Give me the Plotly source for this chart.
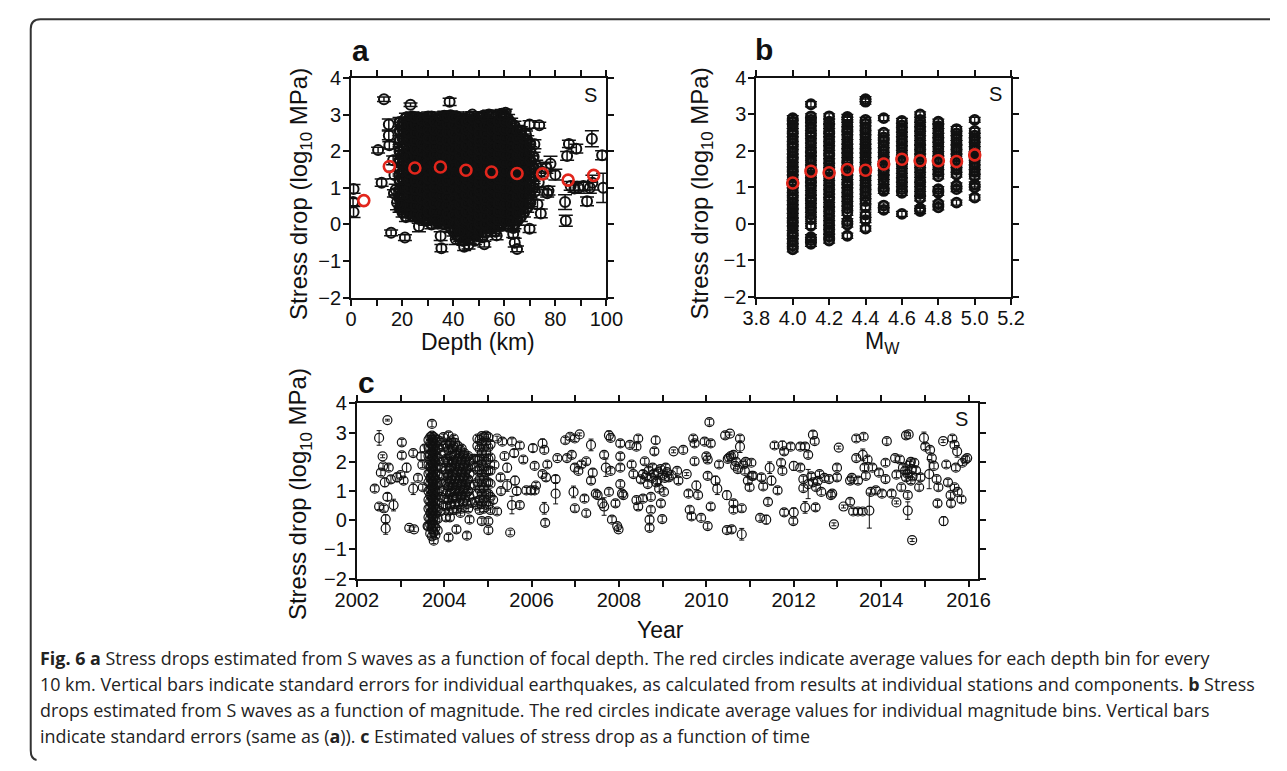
import plotly.graph_objects as go

W, H = 1287, 771
def px(x): return x / W
def py(y): return 1 - y / H

# ---------------- Panel a : stress drop vs depth ----------------
# dense body of events, read column by column (depth km -> log10 stress drops)
a_core_depth = [19.0, 21.5, 24.0, 26.5, 29.0, 31.5, 34.0, 36.5, 39.0, 41.5, 44.0,
                46.5, 49.0, 51.5, 54.0, 56.5, 59.0, 61.5, 64.0, 66.5, 69.0, 71.5]
a_core_stress = [
    [0.45, 0.7, 0.95, 1.2, 1.5, 1.75, 2.0, 2.3, 2.55, 2.8],
    [0.2, 0.4, 0.62, 0.85, 1.05, 1.28, 1.5, 1.7, 1.92, 2.15, 2.35, 2.58, 2.8, 2.92],
    [0.22, 0.45, 0.65, 0.88, 1.1, 1.3, 1.52, 1.75, 1.95, 2.18, 2.4, 2.6, 2.82, 2.95],
    [0.15, 0.38, 0.6, 0.8, 1.02, 1.25, 1.45, 1.68, 1.9, 2.1, 2.32, 2.55, 2.75, 2.92],
    [0.1, 0.32, 0.55, 0.75, 0.98, 1.2, 1.4, 1.62, 1.85, 2.05, 2.28, 2.5, 2.7, 2.9],
    [0.0, 0.22, 0.45, 0.68, 0.9, 1.1, 1.32, 1.55, 1.78, 2.0, 2.2, 2.42, 2.65, 2.85, 2.95],
    [0.05, 0.28, 0.5, 0.72, 0.95, 1.15, 1.38, 1.6, 1.8, 2.02, 2.25, 2.48, 2.7, 2.9],
    [0.0, 0.2, 0.42, 0.65, 0.88, 1.08, 1.3, 1.52, 1.75, 1.98, 2.2, 2.4, 2.62, 2.85, 2.97],
    [-0.1, 0.12, 0.35, 0.58, 0.8, 1.02, 1.25, 1.45, 1.68, 1.9, 2.12, 2.35, 2.55, 2.78, 2.98],
    [-0.3, -0.08, 0.15, 0.38, 0.6, 0.82, 1.05, 1.28, 1.5, 1.72, 1.95, 2.18, 2.4, 2.62, 2.85, 2.95],
    [-0.45, -0.22, 0.0, 0.22, 0.45, 0.68, 0.9, 1.12, 1.35, 1.58, 1.8, 2.02, 2.25, 2.48, 2.7, 2.9],
    [-0.4, -0.18, 0.05, 0.28, 0.5, 0.72, 0.95, 1.18, 1.4, 1.62, 1.85, 2.08, 2.3, 2.52, 2.75, 2.95],
    [-0.3, -0.08, 0.15, 0.38, 0.6, 0.82, 1.05, 1.28, 1.5, 1.72, 1.95, 2.18, 2.4, 2.62, 2.85],
    [-0.35, -0.12, 0.1, 0.32, 0.55, 0.78, 1.0, 1.22, 1.45, 1.68, 1.9, 2.12, 2.35, 2.58, 2.8, 2.96],
    [-0.1, 0.12, 0.35, 0.58, 0.8, 1.02, 1.25, 1.48, 1.7, 1.92, 2.15, 2.38, 2.6, 2.82, 3.0],
    [-0.2, 0.02, 0.25, 0.48, 0.7, 0.92, 1.15, 1.38, 1.6, 1.82, 2.05, 2.28, 2.5, 2.72, 2.95],
    [0.0, 0.22, 0.45, 0.68, 0.9, 1.12, 1.35, 1.58, 1.8, 2.02, 2.25, 2.48, 2.7, 2.92, 3.02],
    [-0.05, 0.18, 0.4, 0.62, 0.85, 1.08, 1.3, 1.52, 1.75, 1.98, 2.2, 2.42, 2.65, 2.88],
    [0.0, 0.22, 0.45, 0.68, 0.9, 1.12, 1.35, 1.58, 1.8, 2.02, 2.25, 2.48, 2.7],
    [0.2, 0.42, 0.65, 0.88, 1.1, 1.32, 1.55, 1.78, 2.0, 2.22, 2.45],
    [0.45, 0.7, 0.95, 1.18, 1.4, 1.62, 1.85, 2.08, 2.3],
    [1.0, 1.3, 1.55, 1.85],
]
a_core2_depth = [20.2, 22.7, 25.2, 27.7, 30.2, 32.7, 35.2, 37.7, 40.2, 42.7, 45.2,
                 47.7, 50.2, 52.7, 55.2, 57.7, 60.2, 62.7, 65.2, 67.7, 70.2]
a_core2_stress = [
    [0.32, 0.55, 0.78, 1.0, 1.22, 1.45, 1.68, 1.9, 2.12, 2.35, 2.58, 2.78],
    [0.3, 0.52, 0.75, 0.98, 1.2, 1.42, 1.63, 1.85, 2.08, 2.3, 2.5, 2.72, 2.9],
    [0.28, 0.5, 0.72, 0.95, 1.18, 1.4, 1.62, 1.85, 2.05, 2.28, 2.5, 2.72, 2.92],
    [0.25, 0.48, 0.7, 0.92, 1.15, 1.35, 1.58, 1.8, 2.02, 2.22, 2.45, 2.65, 2.85],
    [0.12, 0.35, 0.58, 0.8, 1.02, 1.25, 1.48, 1.7, 1.92, 2.12, 2.35, 2.58, 2.8, 2.95],
    [0.12, 0.35, 0.58, 0.8, 1.02, 1.25, 1.45, 1.68, 1.9, 2.12, 2.35, 2.58, 2.8],
    [0.1, 0.32, 0.55, 0.78, 1.0, 1.2, 1.42, 1.65, 1.88, 2.1, 2.32, 2.55, 2.75, 2.92],
    [0.08, 0.3, 0.52, 0.75, 0.98, 1.2, 1.42, 1.62, 1.85, 2.08, 2.3, 2.52, 2.75, 2.95],
    [-0.2, 0.02, 0.25, 0.48, 0.7, 0.92, 1.15, 1.38, 1.6, 1.82, 2.05, 2.28, 2.5, 2.72, 2.92],
    [-0.35, -0.12, 0.1, 0.32, 0.55, 0.78, 1.0, 1.22, 1.45, 1.68, 1.9, 2.12, 2.35, 2.58, 2.8],
    [-0.32, -0.1, 0.12, 0.35, 0.58, 0.8, 1.02, 1.25, 1.48, 1.7, 1.92, 2.15, 2.38, 2.6, 2.82],
    [-0.3, -0.05, 0.18, 0.4, 0.62, 0.85, 1.08, 1.3, 1.52, 1.75, 1.98, 2.2, 2.42, 2.65, 2.88],
    [-0.2, 0.02, 0.25, 0.48, 0.7, 0.92, 1.15, 1.38, 1.6, 1.82, 2.05, 2.28, 2.5, 2.72, 2.92],
    [-0.22, 0.0, 0.22, 0.45, 0.68, 0.9, 1.12, 1.35, 1.58, 1.8, 2.02, 2.25, 2.48, 2.7, 2.9],
    [-0.12, 0.1, 0.32, 0.55, 0.78, 1.0, 1.22, 1.45, 1.68, 1.9, 2.12, 2.35, 2.58, 2.8, 2.98],
    [-0.05, 0.12, 0.35, 0.58, 0.8, 1.02, 1.25, 1.48, 1.7, 1.92, 2.15, 2.38, 2.6, 2.82],
    [0.1, 0.32, 0.55, 0.78, 1.0, 1.22, 1.45, 1.68, 1.9, 2.12, 2.35, 2.58, 2.8, 2.98],
    [0.08, 0.3, 0.52, 0.75, 0.98, 1.2, 1.42, 1.65, 1.88, 2.1, 2.32, 2.55, 2.78],
    [0.1, 0.32, 0.55, 0.78, 1.0, 1.22, 1.45, 1.68, 1.9, 2.12, 2.35, 2.58],
    [0.32, 0.55, 0.78, 1.0, 1.22, 1.45, 1.68, 1.9, 2.12, 2.35],
    [0.6, 0.85, 1.08, 1.3, 1.52, 1.75, 2.0, 2.2],
]
a_core_err = 0.12
# isolated events: (depth km, log10 stress drop, standard error)
a_sparse = [
    (1.0, 0.97, 0.12), (0.8, 0.61, 0.10), (1.0, 0.34, 0.15),
    (10.6, 2.03, 0.08), (12.9, 3.42, 0.06), (12.0, 1.14, 0.10),
    (14.8, 2.73, 0.15), (14.8, 2.43, 0.12), (15.0, 2.16, 0.10), (15.7, -0.23, 0.08),
    (16.5, 1.75, 0.12), (17.0, 1.35, 0.10), (17.5, 0.95, 0.15), (18.0, 0.60, 0.20), (16.8, 0.85, 0.10),
    (19.5, 0.52, 0.18), (20.3, 2.69, 0.10), (21.1, -0.36, 0.08), (23.3, 3.27, 0.05),
    (26.6, -0.05, 0.15), (33.2, 0.12, 0.10), (35.1, -0.32, 0.12), (35.4, -0.65, 0.10), (38.6, 3.35, 0.10),
    (44.3, -0.61, 0.10), (52.2, -0.54, 0.08), (63.5, -0.26, 0.10), (64.1, -0.50, 0.12), (65.0, -0.67, 0.08),
    (69.9, -0.12, 0.10), (74.3, 0.30, 0.12), (69.9, 2.73, 0.10), (73.7, 2.71, 0.08), (71.8, 2.19, 0.12),
    (72.5, 1.60, 0.15), (74.5, 1.45, 0.20), (76.5, 1.55, 0.15), (78.1, 1.66, 0.20), (77.3, 0.92, 0.12),
    (76.8, 0.85, 0.10), (80.0, 1.36, 0.15), (73.0, 0.55, 0.12), (72.0, 0.90, 0.10), (73.5, 1.15, 0.15),
    (83.8, 0.61, 0.20), (84.1, 0.10, 0.15), (84.6, 1.87, 0.12), (85.3, 2.20, 0.10), (88.2, 2.07, 0.12),
    (86.0, 1.05, 0.12), (87.5, 0.98, 0.10), (89.0, 1.00, 0.15), (91.0, 1.05, 0.12), (92.4, 0.63, 0.12),
    (94.3, 2.34, 0.22), (94.5, 1.14, 0.20), (93.5, 1.00, 0.15), (98.3, 1.89, 0.12), (98.7, 1.00, 0.40),
    (60.5, 3.05, 0.10), (58.5, 3.00, 0.10), (47.5, 3.00, 0.08), (52.0, 2.97, 0.10),
    (66.5, 2.55, 0.12), (68.5, 2.45, 0.10), (63.5, -0.10, 0.10), (57.0, -0.30, 0.12),
    (48.5, -0.45, 0.10), (41.0, -0.40, 0.15), (46.0, -0.55, 0.12), (42.5, -0.20, 0.10),
]
a_bin_depth = [5, 15, 25, 35, 45, 55, 65, 75, 85, 95]
a_bin_mean = [0.65, 1.58, 1.54, 1.57, 1.48, 1.43, 1.39, 1.38, 1.21, 1.34]

# ---------------- Panel b : stress drop vs magnitude ----------------
b_mw = [4.0, 4.1, 4.2, 4.3, 4.4, 4.5, 4.6, 4.7, 4.8, 4.9, 5.0]
b_sd_40 = [-0.7, -0.6, -0.48, -0.35, -0.25, -0.12, 0.0, 0.1, 0.22, 0.35, 0.46, 0.58, 0.7, 0.8, 0.92,
           1.05, 1.15, 1.28, 1.4, 1.5, 1.62, 1.75, 1.85, 1.98, 2.1, 2.2, 2.32, 2.45, 2.55, 2.68, 2.8, 2.9]
b_sd_41 = [-0.55, -0.45, -0.37, -0.06, 0.12, 0.25, 0.38, 0.5, 0.62, 0.72, 0.85, 0.98, 1.1, 1.2, 1.32,
           1.45, 1.55, 1.68, 1.8, 1.92, 2.02, 2.15, 2.28, 2.4, 2.5, 2.62, 2.75, 2.85, 2.95, 3.28]
b_sd_42 = [-0.46, -0.35, -0.22, -0.1, 0.02, 0.15, 0.28, 0.4, 0.52, 0.65, 0.75, 0.88, 1.0, 1.12, 1.25,
           1.38, 1.48, 1.6, 1.72, 1.85, 1.95, 2.08, 2.2, 2.32, 2.45, 2.55, 2.68, 2.8, 2.95]
b_sd_43 = [-0.33, -0.02, 0.07, 0.3, 0.42, 0.55, 0.68, 0.8, 0.92, 1.05, 1.15, 1.28, 1.4, 1.52, 1.65,
           1.75, 1.88, 2.0, 2.12, 2.25, 2.38, 2.5, 2.6, 2.72, 2.85, 2.93]
b_sd_44 = [-0.13, 0.1, 0.25, 0.45, 0.62, 0.75, 0.88, 1.0, 1.12, 1.25, 1.38, 1.5, 1.62, 1.75, 1.88,
           2.0, 2.12, 2.25, 2.38, 2.5, 2.62, 2.75, 2.85, 3.35, 3.42]
b_sd_45 = [0.38, 0.5, 0.9, 1.0, 1.15, 1.28, 1.4, 1.52, 1.65, 1.78, 1.9, 2.02, 2.15, 2.28, 2.37, 2.5, 2.9]
b_sd_46 = [0.27, 0.85, 0.95, 1.08, 1.2, 1.32, 1.45, 1.58, 1.7, 1.82, 1.95, 2.08, 2.2, 2.32, 2.45, 2.58,
           2.7, 2.82]
b_sd_47 = [0.35, 0.42, 0.7, 0.82, 0.95, 1.08, 1.2, 1.35, 1.48, 1.6, 1.72, 1.85, 1.98, 2.1, 2.22, 2.35,
           2.48, 2.6, 2.72, 2.85, 3.0]
b_sd_48 = [0.45, 0.55, 0.85, 0.95, 1.3, 1.42, 1.55, 1.68, 1.8, 1.92, 2.05, 2.18, 2.3, 2.42, 2.55, 2.68, 2.8]
b_sd_49 = [0.58, 0.95, 1.05, 1.35, 1.48, 1.6, 1.72, 1.85, 1.98, 2.1, 2.22, 2.35, 2.48, 2.6]
b_sd_50 = [0.72, 1.0, 1.08, 1.3, 1.42, 1.55, 1.68, 1.8, 1.92, 2.05, 2.18, 2.3, 2.42, 2.55, 2.85]
b_columns = [b_sd_40, b_sd_41, b_sd_42, b_sd_43, b_sd_44, b_sd_45, b_sd_46, b_sd_47, b_sd_48, b_sd_49, b_sd_50]
b_err = 0.07
b_mean = [1.12, 1.44, 1.40, 1.49, 1.47, 1.64, 1.77, 1.73, 1.73, 1.71, 1.89]

# ---------------- Panel c : stress drop vs time ----------------
# dense aftershock clusters: column times and their values
c_cluster_year = [2003.64, 2003.68, 2003.72, 2003.76, 2003.80, 2003.85,
                  2003.92, 2003.98, 2004.04, 2004.07, 2004.10, 2004.13, 2004.16, 2004.19, 2004.22,
                  2004.25, 2004.28, 2004.31, 2004.34, 2004.37, 2004.40, 2004.43, 2004.46, 2004.49,
                  2004.52, 2004.55, 2004.58,
                  2004.70, 2004.76, 2004.81, 2004.86, 2004.91, 2004.96, 2005.01, 2005.06]
c_cluster_sd = [
    [-0.2, 0.1, 0.4, 0.7, 1.0, 1.3, 1.6, 1.9, 2.2, 2.5, 2.75],
    [-0.45, -0.15, 0.05, 0.25, 0.45, 0.65, 0.85, 1.05, 1.25, 1.45, 1.65, 1.85, 2.05, 2.25, 2.45, 2.65, 2.85],
    [-0.55, -0.3, -0.05, 0.15, 0.35, 0.55, 0.75, 0.95, 1.15, 1.35, 1.55, 1.75, 1.95, 2.15, 2.35, 2.55, 2.75, 2.9, 3.3],
    [-0.7, -0.4, -0.15, 0.1, 0.3, 0.5, 0.7, 0.9, 1.1, 1.3, 1.5, 1.7, 1.9, 2.1, 2.3, 2.5, 2.7, 2.85],
    [-0.5, -0.25, 0.0, 0.2, 0.4, 0.6, 0.8, 1.0, 1.2, 1.4, 1.6, 1.8, 2.0, 2.2, 2.4, 2.6, 2.8],
    [-0.35, 0.05, 0.35, 0.65, 0.95, 1.25, 1.55, 1.85, 2.15, 2.45, 2.75],
    [0.3, 0.8, 1.3, 1.8, 2.3, 2.7],
    [0.5, 1.0, 1.5, 2.0, 2.5, 2.85],
    [0.1, 0.47, 0.9, 1.3, 1.7, 2.1, 2.6],
    [0.75, 1.2, 1.6, 2.05, 2.5],
    [-0.59, 0.3, 0.7, 1.15, 1.55, 2.0, 2.4, 2.91],
    [0.1, 0.5, 0.9, 1.3, 1.75, 2.2, 2.6],
    [0.55, 1.0, 1.4, 1.8, 2.2, 2.7],
    [0.75, 1.2, 1.6, 2.0, 2.45],
    [0.35, 0.8, 1.25, 1.65, 2.05, 2.5, 2.8],
    [0.55, 1.0, 1.4, 1.85, 2.25, 2.65],
    [-0.31, 0.36, 0.75, 1.1, 1.5, 1.9, 2.3],
    [0.9, 1.3, 1.7, 2.1, 2.55],
    [0.6, 1.0, 1.4, 1.8, 2.2],
    [0.25, 0.8, 1.2, 1.6, 2.0, 2.4],
    [0.4, 0.85, 1.25, 1.65, 2.05, 2.45],
    [0.6, 1.05, 1.45, 1.85, 2.25],
    [0.7, 1.1, 1.5, 1.9, 2.3],
    [0.9, 1.3, 1.7, 2.1],
    [-0.53, 0.55, 0.95, 1.35, 1.75, 2.15],
    [0.4, 1.0, 1.4, 1.8, 2.2],
    [0.02, 0.8, 1.2, 1.6, 2.0],
    [0.63, 1.2, 1.8, 2.1],
    [0.5, 0.9, 1.3, 1.7, 2.1, 2.55, 2.8],
    [0.35, 0.7, 1.05, 1.4, 1.75, 2.1, 2.45, 2.75],
    [-0.03, 0.55, 0.9, 1.25, 1.6, 1.95, 2.3, 2.65, 2.88],
    [0.4, 0.75, 1.1, 1.45, 1.8, 2.15, 2.5, 2.85],
    [0.6, 0.95, 1.3, 1.65, 2.0, 2.35, 2.7, 2.9],
    [-0.34, -0.03, 0.5, 0.9, 1.3, 1.7, 2.1, 2.5, 2.85],
    [0.35, 0.8, 1.25, 1.7, 2.15, 2.6],
]
c_cluster_err = 0.1
# isolated events: (decimal year, log10 stress drop, standard error)
c_2002_2003 = [
    (2002.41, 1.08, 0.10), (2002.51, 2.82, 0.25), (2002.59, 2.19, 0.05), (2002.70, 3.43, 0.03),
    (2002.55, 1.63, 0.10), (2002.64, 1.30, 0.15), (2002.51, 0.47, 0.10), (2002.62, 0.41, 0.10),
    (2002.66, 0.04, 0.15), (2002.66, -0.28, 0.20), (2002.70, 0.80, 0.12), (2002.84, 0.52, 0.20),
    (2002.73, 1.80, 0.10), (2002.60, 1.85, 0.10), (2002.78, 1.40, 0.12), (2002.92, 1.47, 0.15),
    (2003.03, 2.67, 0.10), (2003.03, 2.22, 0.10), (2003.07, 1.36, 0.10), (2003.14, 1.80, 0.15),
    (2003.00, 1.55, 0.10), (2003.20, -0.26, 0.08), (2003.31, -0.31, 0.08), (2003.29, 1.08, 0.20),
    (2003.29, 2.30, 0.10), (2003.47, 2.19, 0.12), (2003.50, 1.90, 0.10), (2003.51, 1.13, 0.10),
    (2003.40, 1.45, 0.10), (2003.55, 2.45, 0.10), (2003.62, -0.20, 0.10),
]
c_2004_2007 = [
    (2004.66, 2.10, 0.10), (2004.64, 0.60, 0.15),
    (2005.21, 2.80, 0.08), (2005.33, 2.69, 0.10), (2005.55, 2.69, 0.10), (2005.73, 2.56, 0.10),
    (2005.44, 1.80, 0.15), (2005.29, 1.47, 0.10), (2005.44, 1.19, 0.20), (2005.66, 1.00, 0.12),
    (2005.55, 0.52, 0.30), (2005.73, 0.52, 0.10), (2005.51, -0.42, 0.08), (2005.21, 0.30, 0.10),
    (2005.62, 1.36, 0.15), (2005.81, 2.08, 0.10), (2005.88, 1.02, 0.10), (2005.99, 1.02, 0.12),
    (2006.07, 1.02, 0.10), (2006.03, 2.47, 0.12), (2006.07, 1.86, 0.10), (2006.10, 1.19, 0.10),
    (2005.15, 1.90, 0.10), (2005.38, 2.20, 0.10), (2005.60, 2.30, 0.12), (2005.12, 0.70, 0.12),
    (2005.30, 1.00, 0.10),
    (2006.25, 2.63, 0.15), (2006.29, 2.41, 0.10), (2006.29, 0.41, 0.20), (2006.31, -0.09, 0.10),
    (2006.36, 1.91, 0.10), (2006.25, 1.58, 0.10), (2006.33, 1.47, 0.12), (2006.55, 1.41, 0.12),
    (2006.55, 0.91, 0.35), (2006.59, 2.13, 0.08), (2006.77, 2.74, 0.10), (2006.88, 2.86, 0.10),
    (2006.99, 2.80, 0.10), (2007.10, 2.94, 0.05), (2006.81, 2.13, 0.10), (2006.92, 2.24, 0.10),
    (2006.99, 1.80, 0.12), (2007.07, 1.69, 0.10), (2007.14, 1.91, 0.10), (2007.25, 2.02, 0.10),
    (2007.36, 2.58, 0.20), (2006.96, 0.97, 0.20), (2006.99, 0.41, 0.10), (2007.21, 0.74, 0.10),
    (2007.25, 0.24, 0.10), (2007.36, 1.36, 0.10), (2007.40, 1.63, 0.12), (2007.47, 0.91, 0.10),
    (2007.51, 0.86, 0.10), (2007.62, 0.58, 0.15), (2007.66, 0.47, 0.30), (2007.66, 2.24, 0.10),
    (2007.70, 1.80, 0.30), (2007.77, 2.91, 0.15), (2007.81, 2.82, 0.10), (2007.81, 1.69, 0.10),
    (2007.77, 0.97, 0.10), (2007.84, 0.02, 0.10), (2007.92, 0.58, 0.10), (2007.96, -0.20, 0.10),
    (2007.99, -0.31, 0.08),
]
c_2008_2010 = [
    (2008.03, 2.63, 0.10), (2008.03, 2.19, 0.10), (2008.03, 1.80, 0.10), (2008.03, 1.24, 0.10),
    (2008.07, 0.91, 0.10), (2008.10, 0.86, 0.10), (2008.25, 2.58, 0.10), (2008.29, 1.91, 0.10),
    (2008.40, 2.52, 0.10), (2008.44, 2.80, 0.10), (2008.33, 1.58, 0.10), (2008.40, 0.69, 0.10),
    (2008.44, 0.47, 0.10), (2008.55, 0.74, 0.10), (2008.55, 1.58, 0.12), (2008.59, 2.02, 0.10),
    (2008.66, 1.24, 0.10), (2008.70, 0.02, 0.12), (2008.70, -0.26, 0.10), (2008.73, 0.36, 0.10),
    (2008.73, 0.80, 0.10), (2008.77, 1.80, 0.10), (2008.81, 2.36, 0.10), (2008.84, 2.74, 0.12),
    (2008.88, 1.36, 0.10), (2008.92, 1.08, 0.10), (2008.96, 0.58, 0.10), (2008.99, 0.04, 0.10),
    (2009.03, 0.97, 0.10), (2009.07, 1.80, 0.12), (2009.14, 1.47, 0.10), (2009.25, 2.36, 0.05),
    (2009.36, 1.36, 0.10), (2009.33, 1.69, 0.10), (2009.47, 2.41, 0.10), (2009.55, 1.58, 0.05),
    (2009.59, 0.91, 0.10), (2009.62, 0.36, 0.10), (2009.66, 0.13, 0.10), (2009.70, 2.80, 0.10),
    (2009.73, 2.63, 0.10), (2009.73, 2.02, 0.10), (2009.77, 1.19, 0.15), (2009.81, 0.86, 0.10),
    (2009.88, 0.08, 0.10), (2010.03, -0.20, 0.10), (2009.96, 2.69, 0.10), (2010.00, 2.19, 0.10),
    (2010.03, 2.08, 0.10), (2010.07, 3.36, 0.10), (2010.10, 2.63, 0.10), (2010.03, 1.52, 0.10),
    (2010.10, 0.47, 0.10), (2010.21, 1.36, 0.15), (2010.25, 1.08, 0.20), (2010.29, 1.91, 0.10),
    (2010.43, 2.91, 0.10), (2010.54, 2.97, 0.05), (2010.47, 0.86, 0.15), (2010.47, -0.34, 0.10),
    (2010.58, -0.31, 0.10), (2010.62, 2.24, 0.10), (2010.66, 1.86, 0.10), (2010.62, 0.58, 0.10),
    (2010.62, 0.36, 0.10), (2010.77, 2.80, 0.10), (2010.77, 2.52, 0.20), (2010.81, 0.41, 0.10),
    (2010.81, -0.48, 0.20), (2010.84, 1.91, 0.10), (2010.88, 1.69, 0.10), (2010.95, 1.36, 0.10),
    (2010.99, 1.13, 0.10), (2011.07, 1.52, 0.10), (2011.03, 1.97, 0.10),
    (2008.62, 1.50, 0.10), (2008.68, 1.70, 0.10), (2008.75, 1.45, 0.10), (2008.80, 1.60, 0.10),
    (2008.85, 1.30, 0.10), (2008.90, 1.65, 0.10), (2008.95, 1.75, 0.10), (2009.00, 1.55, 0.10),
    (2009.05, 1.45, 0.10), (2009.10, 1.65, 0.10), (2009.20, 1.55, 0.10), (2008.50, 1.40, 0.10),
    (2010.49, 2.10, 0.10), (2010.52, 2.15, 0.10), (2010.56, 2.20, 0.10), (2010.68, 2.00, 0.10),
    (2010.72, 1.75, 0.10), (2010.90, 2.00, 0.10),
]
c_2011_2016 = [
    (2011.04, 1.52, 0.10), (2011.26, 1.47, 0.10), (2011.30, 1.16, 0.10), (2011.41, 0.63, 0.10),
    (2011.23, 0.08, 0.10), (2011.37, 0.02, 0.15), (2011.45, 1.80, 0.20), (2011.49, 1.36, 0.15),
    (2011.63, 1.02, 0.10), (2011.56, 2.56, 0.10), (2011.74, 2.56, 0.15), (2011.78, 2.36, 0.10),
    (2011.93, 2.52, 0.10), (2011.74, 1.69, 0.10), (2011.71, 1.97, 0.10), (2011.78, 0.27, 0.10),
    (2012.00, 0.27, 0.15), (2011.99, -0.03, 0.10), (2012.00, 1.86, 0.15), (2012.15, 1.80, 0.10),
    (2012.15, 2.52, 0.10), (2012.26, 2.52, 0.10), (2012.33, 2.24, 0.10), (2012.44, 2.93, 0.12),
    (2012.48, 2.71, 0.10), (2012.22, 1.41, 0.10), (2012.22, 1.10, 0.10), (2012.33, 1.24, 0.50),
    (2012.44, 1.30, 0.10), (2012.59, 1.58, 0.10), (2012.51, 1.13, 0.10), (2012.63, 0.97, 0.10),
    (2012.26, 0.44, 0.20), (2012.50, 0.44, 0.10), (2012.81, 1.41, 0.10), (2012.85, 0.86, 0.10),
    (2012.88, 0.91, 0.10), (2012.99, 1.80, 0.10), (2012.99, 1.47, 0.10), (2012.92, -0.14, 0.05),
    (2013.03, 2.49, 0.05), (2013.14, 0.47, 0.05), (2013.29, 0.63, 0.10), (2013.36, 0.30, 0.10),
    (2013.47, 0.30, 0.10), (2013.58, 0.30, 0.10), (2013.73, 0.33, 0.60), (2013.29, 1.36, 0.10),
    (2013.33, 1.45, 0.10), (2013.47, 1.36, 0.10), (2013.43, 2.80, 0.10), (2013.60, 2.86, 0.10),
    (2013.43, 2.13, 0.10), (2013.58, 2.24, 0.20), (2013.69, 2.08, 0.10), (2013.62, 1.80, 0.10),
    (2013.65, 1.52, 0.10), (2013.80, 1.80, 0.10), (2013.76, 0.97, 0.10), (2013.88, 1.02, 0.10),
    (2014.02, 0.91, 0.10), (2014.24, 0.91, 0.10), (2014.35, 0.61, 0.05), (2013.95, 1.63, 0.10),
    (2014.10, 1.41, 0.10), (2014.10, 1.97, 0.10), (2014.13, 2.71, 0.10), (2014.32, 2.13, 0.10),
    (2014.35, 1.56, 0.10), (2014.43, 2.08, 0.10), (2014.50, 1.80, 0.10), (2014.46, 1.13, 0.10),
    (2014.57, 2.91, 0.10), (2014.63, 2.94, 0.05), (2014.57, 1.47, 0.10), (2014.65, 1.91, 0.10),
    (2014.68, 1.36, 0.10), (2014.76, 1.97, 0.10), (2014.61, 0.86, 0.10), (2014.61, 0.33, 0.30),
    (2014.71, -0.68, 0.05), (2014.87, 1.13, 0.10), (2014.90, 1.47, 0.10), (2014.98, 2.82, 0.20),
    (2015.01, 2.52, 0.10), (2015.10, 1.58, 0.50), (2015.12, 2.41, 0.10), (2015.16, 2.13, 0.10),
    (2015.21, 1.86, 0.10), (2015.27, 1.41, 0.10), (2015.31, 1.13, 0.10), (2015.29, 0.58, 0.10),
    (2015.42, 2.71, 0.05), (2015.43, -0.03, 0.15), (2015.49, 1.91, 0.10), (2015.53, 1.30, 0.10),
    (2015.59, 0.86, 0.10), (2015.60, 0.58, 0.10), (2015.63, 2.80, 0.10), (2015.68, 2.58, 0.10),
    (2015.74, 2.36, 0.20), (2015.71, 1.80, 0.10), (2015.75, 0.97, 0.10), (2015.84, 0.71, 0.10),
    (2015.86, 1.97, 0.10), (2015.93, 2.08, 0.10), (2015.97, 2.13, 0.10), (2015.68, 1.13, 0.10),
    (2014.55, 1.70, 0.10), (2014.60, 1.60, 0.10), (2014.70, 1.75, 0.10), (2014.72, 1.50, 0.10),
    (2014.80, 1.70, 0.10), (2014.68, 2.00, 0.10), (2012.40, 1.50, 0.10), (2012.55, 1.35, 0.10),
    (2012.70, 1.45, 0.10),
]

# tick positions / labels
a_xticks = [0, 20, 40, 60, 80, 100]
b_xticks = [3.8, 4.0, 4.2, 4.4, 4.6, 4.8, 5.0, 5.2]
b_xlabels = ["3.8", "4.0", "4.2", "4.4", "4.6", "4.8", "5.0", "5.2"]
c_xticks = [2002, 2004, 2006, 2008, 2010, 2012, 2014, 2016]
y_ticks = [-2, -1, 0, 1, 2, 3, 4]

# ---------------- build figure ----------------
BLACK = "#111111"
RED = "#e2261c"
FONT = "Liberation Sans, Arial, Helvetica, sans-serif"

def flatten(xs, cols):
    fx, fy = [], []
    for x, col in zip(xs, cols):
        fx += [x] * len(col)
        fy += list(col)
    return fx, fy

def unzip(rows):
    return [r[0] for r in rows], [r[1] for r in rows], [r[2] for r in rows]

fig = go.Figure()

def add_pts(x, y, err, xa, ya, size, lw, ew, eth, const=None):
    if const is not None:
        ey = dict(type="constant", value=const, color=BLACK, thickness=eth, width=ew)
    else:
        ey = dict(type="data", array=err, color=BLACK, thickness=eth, width=ew)
    fig.add_trace(go.Scatter(
        x=x, y=y, mode="markers", xaxis=xa, yaxis=ya, showlegend=False, hoverinfo="skip",
        marker=dict(symbol="circle-open", size=size, color=BLACK, line=dict(width=lw, color=BLACK)),
        error_y=ey))

def add_means(x, y, xa, ya):
    fig.add_trace(go.Scatter(x=x, y=y, mode="markers", xaxis=xa, yaxis=ya,
                             showlegend=False, hoverinfo="skip",
                             marker=dict(symbol="circle-open", size=11, color=RED,
                                         line=dict(width=2.6, color=RED))))

# panel a
cx, cy = flatten(a_core_depth, a_core_stress)
add_pts(cx, cy, None, "x", "y", 9.5, 2.6, 7, 1.5, const=a_core_err)
cx2, cy2 = flatten(a_core2_depth, a_core2_stress)
add_pts(cx2, cy2, None, "x", "y", 9.5, 2.6, 7, 1.5, const=a_core_err)
sx, sy, se = unzip(a_sparse)
add_pts(sx, sy, se, "x", "y", 10, 2.0, 7, 1.5)
add_means(a_bin_depth, a_bin_mean, "x", "y")

# panel b
bx, by = flatten(b_mw, b_columns)
add_pts(bx, by, None, "x2", "y2", 9, 2.8, 6, 1.2, const=b_err)
add_means(b_mw, b_mean, "x2", "y2")

# panel c
kx, ky = flatten(c_cluster_year, c_cluster_sd)
add_pts(kx, ky, None, "x3", "y3", 9, 1.2, 2.5, 1.0, const=c_cluster_err)
for grp in (c_2002_2003, c_2004_2007, c_2008_2010, c_2011_2016):
    gx, gy, ge = unzip(grp)
    add_pts(gx, gy, ge, "x3", "y3", 9, 1.2, 2.5, 1.0)

def axstyle(standoff, **kw):
    d = dict(showline=True, linewidth=2, linecolor=BLACK, mirror="allticks", ticks="outside",
             ticklen=6, tickwidth=1.5, tickcolor=BLACK, showgrid=False, zeroline=False,
             tickfont=dict(family=FONT, size=20, color=BLACK), fixedrange=True,
             ticklabelstandoff=standoff)
    d.update(kw)
    return d

MINOR = dict(ticks="outside", ticklen=6, tickwidth=1.5, tickcolor=BLACK, showgrid=False)

fig.update_layout(
    width=W, height=H, margin=dict(l=0, r=0, t=0, b=0),
    paper_bgcolor="white", plot_bgcolor="white",
    xaxis=axstyle(-4, domain=[px(339.3), px(602.7)], range=[0, 100], anchor="y",
                  tickmode="array", tickvals=a_xticks, minor=dict(MINOR, dtick=10, tick0=0)),
    yaxis=axstyle(-2, domain=[py(295), py(69)], range=[-2, 4], anchor="x",
                  tickmode="array", tickvals=y_ticks),
    xaxis2=axstyle(-4, domain=[px(757.3), px(1020)], range=[3.8, 5.2], anchor="y2",
                   tickmode="array", tickvals=b_xticks, ticktext=b_xlabels),
    yaxis2=axstyle(-2, domain=[py(294), py(69)], range=[-2, 4], anchor="x2",
                   tickmode="array", tickvals=y_ticks),
    xaxis3=axstyle(-4, domain=[px(345.3), px(986)], range=[2002, 2016.22], anchor="y3",
                   tickmode="array", tickvals=c_xticks, minor=dict(MINOR, dtick=1, tick0=2002)),
    yaxis3=axstyle(-2, domain=[py(584.3), py(404)], range=[-2, 4], anchor="x3",
                   tickmode="array", tickvals=y_ticks),
)

ann = []
def note(text, x, y, size, xanchor="center", yanchor="middle", angle=0, family=FONT, color=BLACK):
    ann.append(dict(text=text, x=px(x), y=py(y), xref="paper", yref="paper", showarrow=False,
                    xanchor=xanchor, yanchor=yanchor, textangle=angle,
                    font=dict(family=family, size=size, color=color)))

ytitle = "Stress drop (log<sub>10</sub> MPa)"
# panel letters
note("<b>a</b>", 338, 41, 30, xanchor="left")
note("<b>b</b>", 754, 40, 30, xanchor="left")
note("<b>c</b>", 344, 382, 30, xanchor="left")
# S labels
note("S", 586.5, 86, 20)
note("S", 1003.5, 85, 20)
note("S", 968.5, 420, 20)
# axis titles
note(ytitle, 287, 188, 24, angle=-90)
note("Depth (km)", 470, 341, 23)
note(ytitle, 701, 188, 24, angle=-90)
note("M<sub>W</sub>", 887, 341, 23)
note(ytitle, 287, 497, 24, angle=-90)
note("Year", 658, 637, 23)

# caption
CAP = "Open Sans, Noto Sans, sans-serif"
cap_lines = [
    "<b>Fig. 6 a</b> Stress drops estimated from S waves as a function of focal depth. The red circles indicate average values for each depth bin for every",
    "10 km. Vertical bars indicate standard errors for individual earthquakes, as calculated from results at individual stations and components. <b>b</b> Stress",
    "drops estimated from S waves as a function of magnitude. The red circles indicate average values for individual magnitude bins. Vertical bars",
    "indicate standard errors (same as (<b>a</b>)). <b>c</b> Estimated values of stress drop as a function of time",
]
cap_y = [666, 693, 720, 746]
for t, yy in zip(cap_lines, cap_y):
    note(t, 17, yy, 17.9, xanchor="left", family=CAP, color="#222222")

fig.update_layout(annotations=ann)

# rounded frame around the figure
def P(x, y):
    return f"{px(x):.5f},{py(y):.5f}"
frame = (f"M {P(1287, 8.5)} L {P(19, 8.5)} Q {P(9, 8.5)} {P(9, 18.5)} "
         f"L {P(9, 761)} Q {P(9, 770)} {P(15, 771)}")
fig.update_layout(shapes=[dict(type="path", path=frame, xref="paper", yref="paper",
                               line=dict(color="#333333", width=2))])

fig.write_html("out.html", config={"displayModeBar": False})
